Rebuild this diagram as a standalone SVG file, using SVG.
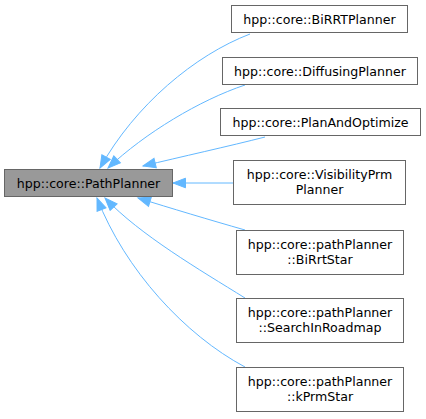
<svg xmlns="http://www.w3.org/2000/svg" width="426" height="419" viewBox="0 0 426 419">
<style>
.n rect{fill:#ffffff;stroke:#666666;stroke-width:1}
.n.b rect{fill:#999999}
text{font-family:"DejaVu Sans","Liberation Sans",sans-serif;font-size:12.6px;fill:#000000;text-anchor:middle}
.e path{fill:none;stroke:#63b8ff;stroke-width:1;marker-end:url(#ah)}
</style>
<defs>
<marker id="ah" markerUnits="userSpaceOnUse" markerWidth="16" markerHeight="12" viewBox="0 -6 14 12" refX="13" refY="0" orient="auto">
<path d="M0.5,-4.8 L13,0 L0.5,4.8 z" fill="#63b8ff" stroke="#63b8ff"/>
</marker>
</defs>
<rect width="426" height="419" fill="#ffffff"/>
<g id="edges" class="e">
<path d="M250,34 C195,55 135,105 100,168"/>
<path d="M245,85 C200,100 145,133 108,168"/>
<path d="M265,137 C230,146 180,157 143,166"/>
<path d="M233,183 L173,183"/>
<path d="M245,230 C210,220 170,208 138,198"/>
<path d="M245,298 C200,270 140,235 105,198"/>
<path d="M245,367 C185,335 125,270 97,198"/>
</g>
<g id="PathPlanner" class="n b"><rect x="4.5" y="169.5" width="168" height="27"/><text x="88.5" y="187.5">hpp::core::PathPlanner</text></g>
<g id="BiRRTPlanner" class="n"><rect x="231.5" y="5.5" width="176" height="27"/><text x="319.5" y="23.5">hpp::core::BiRRTPlanner</text></g>
<g id="DiffusingPlanner" class="n"><rect x="222.5" y="57.5" width="195" height="27"/><text x="320" y="75.5">hpp::core::DiffusingPlanner</text></g>
<g id="PlanAndOptimize" class="n"><rect x="220.5" y="108.5" width="200" height="27"/><text x="320.5" y="126.5">hpp::core::PlanAndOptimize</text></g>
<g id="VisibilityPrmPlanner" class="n"><rect x="233.5" y="160.5" width="172" height="44"/><text x="319.5" y="179">hpp::core::VisibilityPrm</text><text x="319.5" y="194">Planner</text></g>
<g id="BiRrtStar" class="n"><rect x="236.5" y="230.5" width="167" height="44"/><text x="320" y="249">hpp::core::pathPlanner</text><text x="320" y="264">::BiRrtStar</text></g>
<g id="SearchInRoadmap" class="n"><rect x="236.5" y="298.5" width="167" height="44"/><text x="320" y="317">hpp::core::pathPlanner</text><text x="320" y="332">::SearchInRoadmap</text></g>
<g id="kPrmStar" class="n"><rect x="236.5" y="367.5" width="167" height="44"/><text x="320" y="386">hpp::core::pathPlanner</text><text x="320" y="401">::kPrmStar</text></g>
</svg>
